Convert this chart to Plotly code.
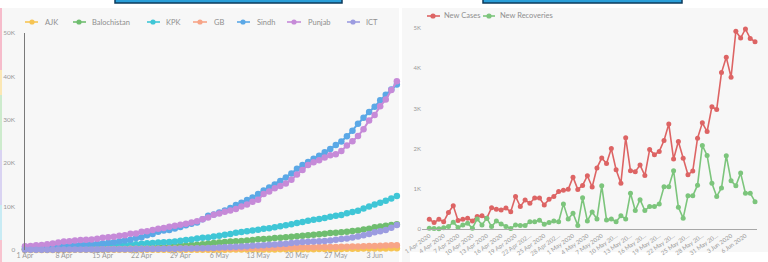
import plotly.graph_objects as go
import pandas as pd

W, H = 768, 262

# ---------------- data ----------------
left_dates = pd.date_range("2020-04-01", periods=68)
right_dates = pd.date_range("2020-04-01", periods=69)

ajk = [9, 9, 10, 11, 11, 15, 18, 28, 28, 30, 33, 37, 42, 43, 43, 44, 45, 46, 46, 49, 50, 53, 53, 56, 57, 59, 59, 60, 61, 63,
       65, 66, 67, 71, 76, 78, 85, 89, 93, 99, 108, 112, 120, 125, 132, 142, 152, 157, 162, 170, 178, 189, 196, 206, 215, 225, 240, 254, 275, 296, 312,
       325, 332, 344, 357, 370, 383, 397]
balochistan = [164, 169, 175, 189, 191, 202, 212, 212, 220, 228, 230, 230, 232, 232, 240, 253, 262, 280, 296, 342, 375, 438, 495, 558, 640, 684, 781, 916, 988, 1049,
               1172, 1218, 1321, 1495, 1625, 1725, 1828, 1935, 2017, 2074, 2203, 2329, 2457, 2544, 2620, 2746, 2843, 2960, 3074, 3190, 3306, 3407, 3536, 3650, 3758, 3928, 3955, 4087, 4193, 4397, 4514,
               4710, 4924, 5224, 5413, 5606, 5745, 5939]
kpk = [253, 276, 311, 343, 372, 405, 465, 500, 560, 620, 656, 697, 744, 800, 865, 935, 1001, 1077, 1137, 1235, 1345, 1453, 1541, 1609, 1708, 1793, 1864, 1984, 2160, 2313,
       2435, 2627, 2799, 2907, 3129, 3288, 3499, 3712, 3956, 4131, 4327, 4509, 4669, 4875, 5027, 5252, 5446, 5678, 5923, 6230, 6475, 6727, 6971, 7155, 7385, 7685, 7903, 8080, 8483, 8778, 9067,
       9540, 10027, 10485, 10897, 11373, 11853, 12459]
gb = [187, 193, 193, 194, 210, 211, 213, 215, 216, 224, 224, 228, 231, 233, 237, 237, 245, 247, 253, 262, 266, 283, 289, 300, 307, 308, 320, 325, 331, 339,
      345, 355, 360, 372, 386, 389, 405, 412, 421, 441, 450, 459, 471, 480, 511, 527, 550, 575, 595, 608, 619, 636, 650, 665, 674, 691, 711, 740, 772, 800, 830,
      861, 905, 949, 996, 1042, 1080, 1112]
sindh = [676, 708, 743, 783, 830, 881, 932, 986, 1036, 1128, 1214, 1318, 1411, 1452, 1518, 1668, 1813, 2008, 2217, 2355, 2764, 2936, 3373, 3671, 4232, 4475, 4615, 4956, 5291, 5695,
         6053, 6336, 7102, 7882, 8189, 8640, 9093, 9691, 10350, 10900, 11500, 12100, 12900, 13700, 14400, 15100, 15900, 16700, 17600, 18700, 19600, 20300, 21000, 21700, 22500, 23300, 24200, 25000, 26200, 27500, 29100,
         30500, 31800, 33000, 34500, 35800, 37000, 38108]
punjab = [845, 920, 1072, 1163, 1325, 1493, 1707, 1951, 2004, 2171, 2279, 2336, 2425, 2594, 2826, 2945, 3072, 3291, 3391, 3721, 3822, 4195, 4328, 4589, 4880, 5049, 5353, 5591, 5827, 6061,
          6340, 6621, 7106, 7494, 8103, 8419, 8800, 9077, 9463, 10033, 10471, 11093, 11568, 12915, 13471, 14201, 14730, 15346, 16187, 17382, 18455, 19557, 20212, 20695, 21330, 21850, 22037, 22826, 24104, 25056, 26240,
          27850, 29856, 31104, 33144, 34651, 36850, 38903]
ict = [62, 68, 75, 82, 82, 83, 93, 102, 107, 113, 119, 131, 133, 141, 150, 154, 163, 171, 185, 194, 203, 214, 224, 243, 254, 271, 283, 297, 320, 343,
       368, 393, 414, 442, 487, 561, 641, 705, 758, 818, 886, 962, 1051, 1118, 1207, 1271, 1363, 1465, 1592, 1728, 1819, 1883, 1953, 2008, 2053, 2192, 2363, 2540, 2669, 2893, 3110,
       3414, 3698, 4065, 4323, 4637, 5107, 5775]

new_cases = [240, 160, 240, 180, 410, 580, 210, 240, 270, 200, 310, 330, 270, 530, 490, 475, 520, 430, 810, 560,
             720, 640, 770, 770, 600, 740, 810, 930, 965, 990, 1290, 985, 1085, 1325, 1045, 1520, 1765, 1630, 2000, 1475,
             1140, 2270, 1450, 1425, 1590, 1330, 1975, 1850, 1930, 2200, 2610, 1740, 2175, 1760, 1350, 1440, 2260, 2640, 2425, 3040,
             2975, 3890, 4270, 3775, 4920, 4750, 4975, 4740, 4660]
new_recoveries = [20, 10, 5, 30, 60, 170, 40, 100, 140, 20, 250, 100, 270, 60, 200, 125, 60, 10, 100, 90,
                  90, 180, 180, 220, 120, 160, 200, 180, 625, 250, 390, 90, 775, 200, 420, 250, 1075, 225, 250, 180,
                  330, 250, 890, 460, 730, 460, 560, 560, 625, 1050, 1050, 1450, 540, 270, 825, 825, 1090, 2080, 1830, 1140,
                  810, 1020, 1825, 1200, 1075, 1390, 890, 890, 680]

left_tick_vals = pd.date_range("2020-04-01", periods=10, freq="7D")
left_tick_text = ["1 Apr", "8 Apr", "15 Apr", "22 Apr", "29 Apr", "6 May", "13 May", "20 May", "27 May", "3 Jun"]
left_y_vals = [0, 10000, 20000, 30000, 40000, 50000]
left_y_text = ["0", "10K", "20K", "30K", "40K", "50K"]

right_tick_vals = pd.date_range("2020-04-01", periods=23, freq="3D")
right_tick_text = ["1 Apr 2020", "4 Apr 2020", "7 Apr 2020", "10 Apr 2020", "13 Apr 2020", "16 Apr 2020",
                   "19 Apr 2020", "22 Apr 202…", "25 Apr 2020", "28 Apr 202…", "1 May 2020", "4 May 2020",
                   "7 May 2020", "10 May 20…", "13 May 20…", "16 May 20…", "19 May 20…", "22 May 20…",
                   "25 May 20…", "28 May 20…", "31 May 20…", "3 Jun 2020", "6 Jun 2020"]
right_y_vals = [0, 1000, 2000, 3000, 4000, 5000]
right_y_text = ["0", "1K", "2K", "3K", "4K", "5K"]

province_names = ["AJK", "Balochistan", "KPK", "GB", "Sindh", "Punjab", "ICT"]
province_series = [ajk, balochistan, kpk, gb, sindh, punjab, ict]
province_colors = ["#f6c453", "#6fbd6f", "#3fc6d6", "#f7a487", "#5ba8e6", "#c68ad8", "#9c9ce0"]

right_names = ["New Cases", "New Recoveries"]
right_series = [new_cases, new_recoveries]
right_colors = ["#dd6464", "#7cc57c"]

# ---------------- helpers ----------------
def X(px):
    return px / W

def Y(py):
    return 1 - py / H

FONT = "Lato"
TICK_COLOR = "#9a9a9a"

fig = go.Figure()

for name, vals, col in zip(province_names, province_series, province_colors):
    fig.add_trace(go.Scatter(
        x=left_dates, y=vals, name=name, mode="lines+markers",
        line=dict(color=col, width=2), marker=dict(color=col, size=6.5),
        cliponaxis=False, xaxis="x", yaxis="y", showlegend=False))

for name, vals, col in zip(right_names, right_series, right_colors):
    fig.add_trace(go.Scatter(
        x=right_dates, y=vals, name=name, mode="lines+markers",
        line=dict(color=col, width=1.6), marker=dict(color=col, size=5),
        cliponaxis=False, xaxis="x2", yaxis="y2", showlegend=False))

t0 = pd.Timestamp("2020-04-01")
left_px_per_day = 5.55
right_px_per_day = 4.79

fig.update_layout(
    template="none",
    width=W, height=H,
    margin=dict(l=0, r=0, t=0, b=0, pad=0),
    paper_bgcolor="white", plot_bgcolor="rgba(0,0,0,0)",
    font=dict(family=FONT, color=TICK_COLOR, size=7),
    xaxis=dict(domain=[X(25), X(400)], automargin=False,
               range=[t0, t0 + pd.Timedelta(days=375 / left_px_per_day)],
               tickvals=left_tick_vals, ticktext=left_tick_text,
               showgrid=False, zeroline=False, showline=False,
               ticks="", tickfont=dict(size=7, color=TICK_COLOR), anchor="y"),
    yaxis=dict(domain=[Y(250), Y(33)], range=[0, 50000], automargin=False,
               tickvals=left_y_vals, ticktext=left_y_text,
               showgrid=False, zeroline=False, showline=True,
               linecolor="#7a7a7a", linewidth=1.5,
               ticks="outside", ticklen=7, tickcolor="rgba(0,0,0,0)",
               tickfont=dict(size=6.5, color=TICK_COLOR), anchor="x"),
    xaxis2=dict(domain=[X(422), X(757)], automargin=False,
                range=[t0 - pd.Timedelta(days=7.3 / right_px_per_day),
                       t0 + pd.Timedelta(days=(757 - 429.3) / right_px_per_day)],
                tickvals=right_tick_vals, ticktext=right_tick_text, tickangle=-35,
                showgrid=False, zeroline=False, showline=True,
                linecolor="#a8a8a8", linewidth=1,
                ticks="", tickfont=dict(size=6, color=TICK_COLOR), anchor="y2"),
    yaxis2=dict(domain=[Y(229), Y(28)], range=[0, 5000], automargin=False,
                tickvals=right_y_vals, ticktext=right_y_text,
                showgrid=False, zeroline=False, showline=False,
                ticks="", tickfont=dict(size=6, color=TICK_COLOR), anchor="x2"),
)

shapes = []
# panel backgrounds
PANEL = "#f7f7f7"
shapes.append(dict(type="rect", xref="paper", yref="paper", x0=X(2), x1=X(399), y0=Y(262), y1=Y(8),
                   fillcolor=PANEL, line=dict(width=0), layer="below"))
shapes.append(dict(type="rect", xref="paper", yref="paper", x0=X(402), x1=X(768), y0=Y(252), y1=Y(8),
                   fillcolor=PANEL, line=dict(width=0), layer="below"))
shapes.append(dict(type="rect", xref="paper", yref="paper", x0=X(402), x1=X(410), y0=Y(262), y1=Y(252),
                   fillcolor=PANEL, line=dict(width=0), layer="below"))
# left edge coloured strip
strip = [(8, 70, "#f6bccb"), (70, 95, "#fbe7b4"), (95, 150, "#cdebcd"), (150, 205, "#d9d3f2"),
         (205, 240, "#c8ebf4"), (240, 262, "#f8c3cf")]
for a, b, c in strip:
    shapes.append(dict(type="rect", xref="paper", yref="paper", x0=X(0), x1=X(2), y0=Y(b), y1=Y(a),
                       fillcolor=c, line=dict(width=0), layer="below"))
# top title boxes (bottom edge visible)
for a, b in [(115, 342), (483, 682)]:
    shapes.append(dict(type="rect", xref="paper", yref="paper", x0=X(a), x1=X(b), y0=Y(3), y1=Y(-12),
                       fillcolor="#2a9ed8", line=dict(color="#0d3b5c", width=1.5), layer="above"))

annotations = []

def legend_item(line_x0, line_x1, mx, ty_px, tx, label, col):
    shapes.append(dict(type="line", xref="paper", yref="paper", x0=X(line_x0), x1=X(line_x1),
                       y0=Y(ty_px), y1=Y(ty_px), line=dict(color=col, width=1.6)))
    r = 2.6
    shapes.append(dict(type="circle", xref="paper", yref="paper", x0=X(mx - r), x1=X(mx + r),
                       y0=Y(ty_px + r), y1=Y(ty_px - r), fillcolor=col, line=dict(width=0)))
    annotations.append(dict(xref="paper", yref="paper", x=X(tx), y=Y(ty_px), text=label,
                            showarrow=False, xanchor="left", yanchor="middle",
                            font=dict(family=FONT, size=7.5, color="#8f8f8f")))

left_leg = [(25, 38, 32, 43), (73, 86, 79, 90), (147, 160, 153, 164), (193, 207, 200, 212),
            (237, 250, 243, 255), (287, 301, 294, 306), (347, 360, 353, 364)]
for (a, b, m, t), name, col in zip(left_leg, province_names, province_colors):
    legend_item(a, b, m, 22, t, name, col)

right_leg = [(427, 440, 433, 442), (483, 495, 489, 498)]
for (a, b, m, t), name, col in zip(right_leg, right_names, right_colors):
    legend_item(a, b, m, 16, t, name, col)

fig.update_layout(shapes=shapes, annotations=annotations)

fig.write_html("out.html",
               config={"displayModeBar": False, "staticPlot": True},
               post_script="document.body.style.margin='0px';document.body.style.overflow='hidden';")
